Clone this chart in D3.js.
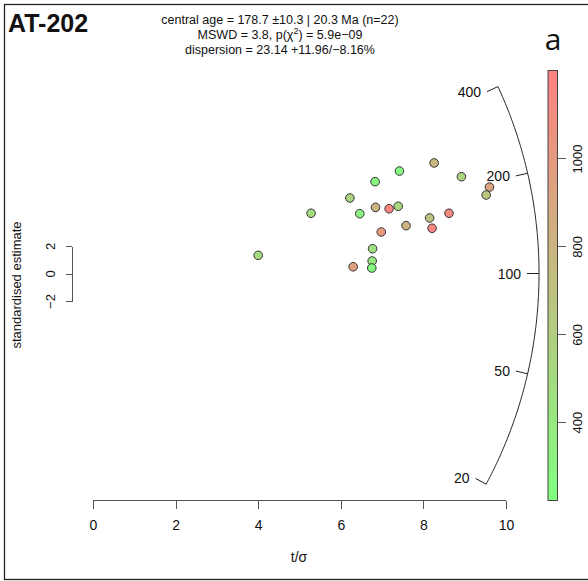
<!DOCTYPE html>
<meta charset="utf-8">
<style>
    body { margin: 0; background: #fff; }
    text { font-family: "Liberation Sans", Arial, sans-serif; fill: #111; }
    .axis path, .axis line { stroke: #555; fill: none; shape-rendering: crispEdges; }
    .axis text { font-size: 13px; }
</style>
<svg width="588" height="581"></svg>
<script src="https://cdn.jsdelivr.net/npm/d3@7"></script>
<script>
// grain data: t/sigma, standardised estimate, colour value
var tSigma = [4.00, 5.28, 6.22, 6.46, 6.83, 6.84, 7.42, 7.17, 7.39, 6.98, 6.77,
              6.76, 6.75, 6.30, 7.58, 8.26, 8.15, 8.21, 8.62, 8.92, 9.60, 9.52];
var stdEst = [1.32, 4.38, 5.49, 4.35, 6.68, 4.81, 7.45, 4.71, 4.89, 3.02, 1.80,
              0.91, 0.40, 0.49, 3.48, 8.04, 4.04, 3.29, 4.38, 7.04, 6.29, 5.71];
var colVal = [500, 500, 560, 300, 280, 820, 270, 1150, 520, 1000, 470,
              400, 250, 950, 800, 780, 700, 1150, 1120, 560, 920, 650];
var xTicks = [0, 2, 4, 6, 8, 10];
var yTicks = [-2, 0, 2];
var ageTicks = [20, 50, 100, 200, 400];
var colTicks = [400, 600, 800, 1000];
var colDomain = [222, 1200];
var refAge = 100, arcRadius = 10.8;
var infoLines = ["central age = 178.7 \u00b110.3 | 20.3 Ma (n=22)",
                 "MSWD = 3.8, p(\u03c7", "dispersion = 23.14 +11.96/\u22128.16%"];

var svg = d3.select("svg");

var x = d3.scaleLinear().domain([0, 10]).range([93, 506]);
var y = d3.scaleLinear().domain([-2, 2]).range([301, 246]);
var col = d3.scaleLinear().domain(colDomain).range(["#80FF80", "#FF8080"]).interpolate(d3.interpolateRgb);
var cbar = d3.scaleLinear().domain(colDomain).range([500.5, 70.5]);

// frame
svg.append("rect").attr("x", 4.5).attr("y", 4.5).attr("width", 590).attr("height", 575)
    .attr("fill", "none").attr("stroke", "#222").attr("stroke-width", 1.3);

// x axis
var xa = svg.append("g").attr("class", "axis")
    .attr("transform", "translate(0,500.5)")
    .call(d3.axisBottom(x).tickValues(xTicks).tickSize(8).tickPadding(12).tickSizeOuter(0));
xa.select(".domain").attr("d", "M" + x(0) + ",0H" + x(10));
xa.selectAll(".tick text").style("font-size", "14px");
svg.append("text").attr("x", 299).attr("y", 562).attr("text-anchor", "middle")
    .style("font-size", "14px").text("t/\u03c3");

// y scale bar
var ya = svg.append("g").attr("class", "axis").attr("transform", "translate(72,0)")
    .call(d3.axisLeft(y).tickValues(yTicks).tickSize(6).tickSizeOuter(0)
        .tickFormat(function (d) { return d < 0 ? "\u2212" + (-d) : d; }));
ya.selectAll(".tick text").attr("x", 0).attr("y", 0).attr("dy", null)
    .attr("transform", "translate(-22,0) rotate(-90)").attr("text-anchor", "middle")
    .attr("dominant-baseline", "central");
svg.append("text").attr("transform", "translate(21,285) rotate(-90)")
    .attr("text-anchor", "middle").style("font-size", "13px").text("standardised estimate");

// radial arc in pixel space
var sx = x(1) - x(0), sy = y(0) - y(1), ox = x(0), oy = y(0);
var Rpx = arcRadius * sx;
function dir(age) {
    var dx = sx, dy = sy * Math.log(age / refAge), n = Math.sqrt(dx * dx + dy * dy);
    return [dx / n, dy / n];
}
function pt(age, r) { var d = dir(age); return [ox + r * d[0], oy - r * d[1]]; }
var lo = Math.log(ageTicks[0]), hi = Math.log(ageTicks[ageTicks.length - 1]);
var arcAges = d3.range(0, 201).map(function (i) { return Math.exp(lo + i / 200 * (hi - lo)); });
svg.append("path").attr("d", d3.line()(arcAges.map(function (a) { return pt(a, Rpx); })))
    .attr("fill", "none").attr("stroke", "#222").attr("stroke-width", 1);
ageTicks.forEach(function (a) {
    var p0 = pt(a, Rpx), p1 = pt(a, Rpx - 12);
    svg.append("line").attr("x1", p0[0]).attr("y1", p0[1]).attr("x2", p1[0]).attr("y2", p1[1])
        .attr("stroke", "#222");
    svg.append("text").attr("x", p1[0] - 6).attr("y", p1[1]).attr("text-anchor", "end")
        .attr("dominant-baseline", "central").style("font-size", "14px").text(a);
});

// points
svg.append("g").selectAll("circle").data(tSigma).enter().append("circle")
    .attr("cx", function (d) { return x(d); })
    .attr("cy", function (d, i) { return y(stdEst[i]); })
    .attr("r", 4.3)
    .attr("fill", function (d, i) { return col(colVal[i]); })
    .attr("stroke", "#333").attr("stroke-width", 1);

// colour bar
var grad = svg.append("defs").append("linearGradient").attr("id", "cb")
    .attr("x1", 0).attr("y1", 1).attr("x2", 0).attr("y2", 0);
grad.selectAll("stop").data(d3.range(0, 11)).enter().append("stop")
    .attr("offset", function (d) { return d / 10; })
    .attr("stop-color", function (d) { return col(colDomain[0] + d / 10 * (colDomain[1] - colDomain[0])); });
svg.append("rect").attr("x", 548).attr("y", cbar(colDomain[1])).attr("width", 9.5)
    .attr("height", cbar(colDomain[0]) - cbar(colDomain[1]))
    .attr("fill", "url(#cb)").attr("stroke", "#444").attr("stroke-width", 1);
var ca = svg.append("g").attr("class", "axis").attr("transform", "translate(557.5,0)")
    .call(d3.axisRight(cbar).tickValues(colTicks).tickSize(8).tickSizeOuter(0).tickFormat(d3.format("d")));
ca.select(".domain").remove();
ca.selectAll(".tick line").attr("stroke", "#222");
ca.selectAll(".tick text").attr("x", 0).attr("dy", null)
    .attr("transform", "translate(20,0) rotate(-90)").attr("text-anchor", "middle")
    .attr("dominant-baseline", "central");

// titles
svg.append("text").attr("x", 8).attr("y", 32).style("font-size", "25px").style("font-weight", "bold")
    .text("AT-202");
svg.append("text").attr("x", 553).attr("y", 50).attr("text-anchor", "middle")
    .style("font-size", "30px").style("font-family", "'Open Sans', sans-serif").text("a");
svg.append("text").attr("x", 280).attr("y", 24).attr("text-anchor", "middle")
    .style("font-size", "12.5px").text(infoLines[0]);
var l2 = svg.append("text").attr("x", 280).attr("y", 39).attr("text-anchor", "middle")
    .style("font-size", "12.5px");
l2.append("tspan").text(infoLines[1]);
l2.append("tspan").attr("dy", -5).style("font-size", "9px").text("2");
l2.append("tspan").attr("dy", 5).text(") = 5.9e\u221209");
svg.append("text").attr("x", 280).attr("y", 54).attr("text-anchor", "middle")
    .style("font-size", "12.5px").text(infoLines[2]);
</script>
